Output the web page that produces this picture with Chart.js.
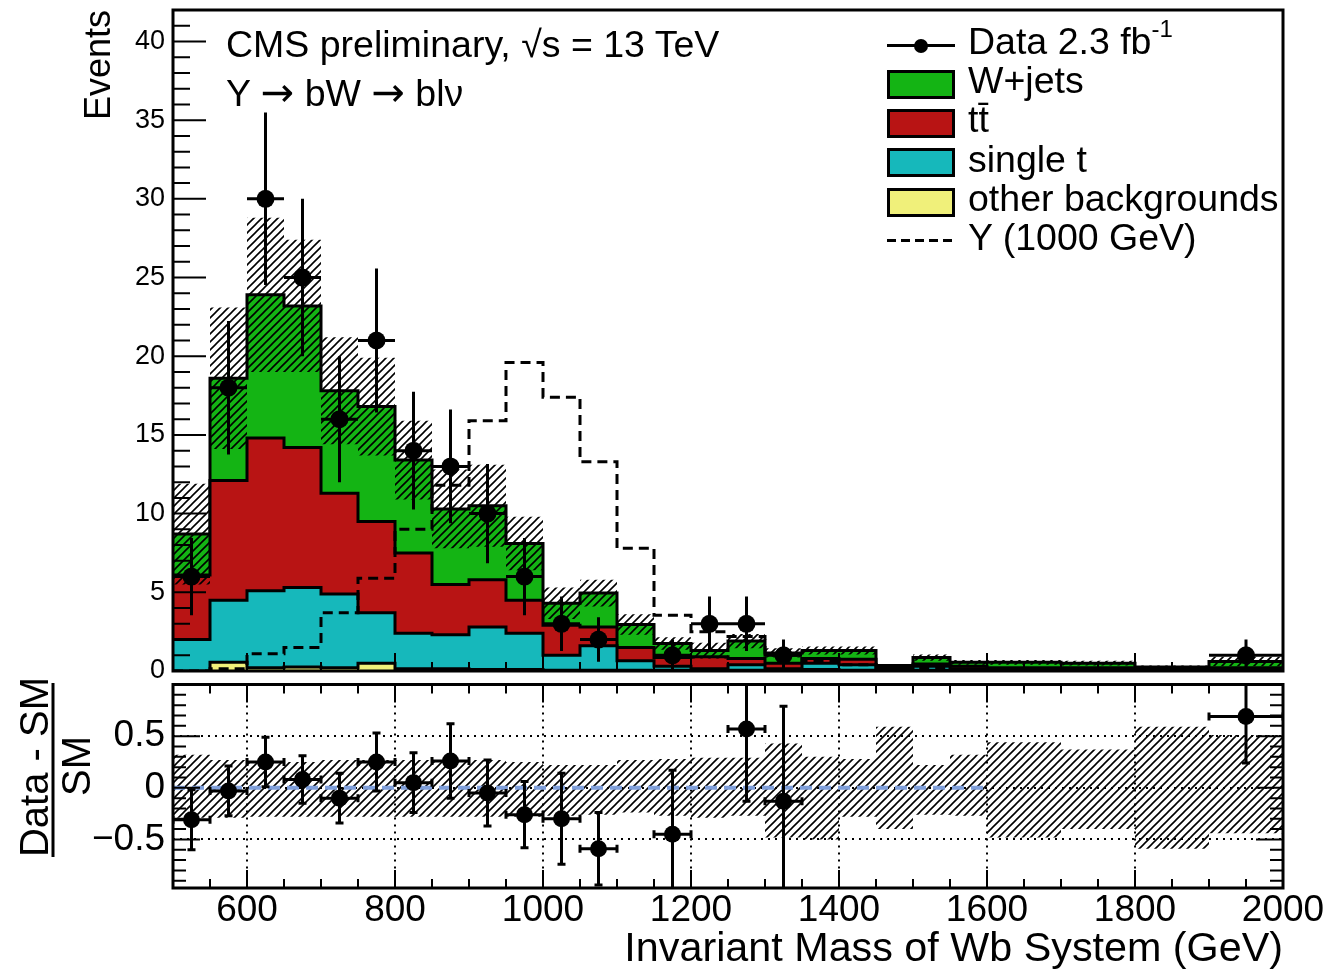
<!DOCTYPE html>
<html>
<head>
<meta charset="utf-8">
<title>Invariant mass of Wb system</title>
<script src="https://cdn.jsdelivr.net/npm/chart.js@4.4.1/dist/chart.umd.min.js"></script>
<style>
  html, body { margin: 0; padding: 0; background: #fff; }
  body { position: relative; width: 1326px; height: 974px; overflow: hidden;
         font-family: "Liberation Sans", Arial, Helvetica, sans-serif; color: #000; }
  canvas { position: absolute; left: 0; }
  #main-chart { top: 0; }
  #ratio-chart { top: 676px; }
  .txt { position: absolute; font-size: 37.5px; line-height: 36px; white-space: nowrap; }
  .txt sup { font-size: 24px; line-height: 0; position: relative; top: -4px; }
  .arrow { font-family: "DejaVu Sans", sans-serif; font-size: 40px; }
  .swatch { position: absolute; left: 887px; width: 68px; height: 29px; box-sizing: border-box; border: 3px solid #000; }
</style>
</head>
<body>
<canvas id="main-chart" width="1326" height="690"></canvas>
<canvas id="ratio-chart" width="1326" height="298"></canvas>

<div class="txt" style="left:226px; top:26px;">CMS preliminary, √s = 13 TeV</div>
<div class="txt" style="left:226px; top:74px;">Y <span class="arrow">→</span> bW <span class="arrow">→</span> blν</div>

<!-- legend -->
<div style="position:absolute; left:887px; top:44px; width:68px; height:3px; background:#000;"></div>
<div style="position:absolute; left:914px; top:39px; width:14px; height:14px; border-radius:50%; background:#000;"></div>
<div class="txt" style="left:968px; top:23px;">Data 2.3 fb<sup>-1</sup></div>
<div class="swatch" style="top:70px; background:#14b414;"></div>
<div class="txt" style="left:968px; top:62px;">W+jets</div>
<div class="swatch" style="top:109px; background:#b81414;"></div>
<div class="txt" style="left:968px; top:101px;">tt̄</div>
<div class="swatch" style="top:148px; background:#16b8bb;"></div>
<div class="txt" style="left:968px; top:141px;">single t</div>
<div class="swatch" style="top:188px; background:#f0f07a;"></div>
<div class="txt" style="left:968px; top:180px;">other backgrounds</div>
<div style="position:absolute; left:887px; top:239px; width:66px; height:3px;
            background:repeating-linear-gradient(to right, #000 0 9px, transparent 9px 14px);"></div>
<div class="txt" style="left:968px; top:219px;">Y (1000 GeV)</div>

<script>
const FONT = '"Liberation Sans", Arial, Helvetica, sans-serif';

// bin edges (GeV)
const binEdges = [500, 550, 600, 650, 700, 750, 800, 850, 900, 950, 1000, 1050, 1100, 1150,
                  1200, 1250, 1300, 1350, 1400, 1450, 1500, 1550, 1600, 1700, 1800, 1900, 2000];

// background contributions per bin (events)
const otherBkg  = [0, 0.55, 0.2, 0.25, 0.2, 0.5, 0.15, 0.15, 0.1, 0.1, 0.05, 0.05, 0.05,
                   0.05, 0.05, 0.05, 0.05, 0.1, 0.05, 0, 0.05, 0, 0, 0, 0, 0];
const singleTop = [2.0, 3.95, 4.9, 5.05, 4.7, 3.2, 2.25, 2.15, 2.7, 2.3, 0.95, 1.55, 0.6,
                   0.25, 0.1, 0.35, 0.1, 0.4, 0.35, 0.1, 0.25, 0.15, 0.1, 0.1, 0.05, 0.1];
const ttbar     = [4.1, 7.6, 9.7, 8.9, 6.4, 5.8, 5.1, 3.2, 3.0, 2.1, 1.9, 1.2, 0.85,
                   0.55, 0.75, 0.4, 0.35, 0.3, 0.35, 0.1, 0.15, 0.15, 0.1, 0.1, 0.05, 0.1];
const wJets     = [2.6, 6.5, 9.1, 9.0, 6.5, 7.3, 5.9, 4.8, 4.7, 3.6, 1.4, 2.15, 1.45,
                   0.9, 0.4, 1.1, 0.65, 0.5, 0.55, 0.15, 0.4, 0.25, 0.35, 0.3, 0.15, 0.4];
// uncertainty on the total background (events)
const bkgErr    = [3.2, 4.5, 4.9, 4.2, 3.4, 3.1, 2.5, 2.5, 2.6, 1.7, 1.0, 0.85, 0.65,
                   0.4, 0.5, 0.45, 0.3, 0.25, 0.25, 0.1, 0.2, 0.15, 0.15, 0.15, 0.1, 0.3];
// Y (1000 GeV) signal
const signalY   = [0, 0.15, 1.1, 1.5, 3.7, 5.9, 9.0, 11.8, 15.9, 19.6, 17.4, 13.3, 7.8,
                   3.55, 2.5, 2.2, 1.0, 0.6, 0.4, 0.2, 0.2, 0.1, 0.1, 0.05, 0.05, 0.05];

// data
const dataX    = [525, 575, 625, 675, 725, 775, 825, 875, 925, 975, 1025, 1075, 1175, 1225, 1275, 1325, 1950];
const dataY    = [6, 18, 30, 25, 16, 21, 14, 13, 10, 6, 3, 2, 1, 3, 3, 1, 1];
const dataErr  = [2.45, 4.24, 5.48, 5.0, 4.0, 4.58, 3.74, 3.61, 3.16, 2.45, 1.73, 1.41, 1.0, 1.73, 1.73, 1.0, 1.0];
const dataXErr = [25, 25, 25, 25, 25, 25, 25, 25, 25, 25, 25, 25, 25, 25, 25, 25, 50];

// ratio panel: (Data - SM) / SM
const ratioX    = [525, 575, 625, 675, 725, 775, 825, 875, 925, 975, 1025, 1075, 1175, 1275, 1325, 1950];
const ratioY    = [-0.31, -0.03, 0.25, 0.08, -0.10, 0.25, 0.05, 0.26, -0.05, -0.26, -0.30, -0.59, -0.45, 0.57, -0.13, 0.69];
const ratioErr  = [0.29, 0.24, 0.24, 0.23, 0.24, 0.28, 0.29, 0.36, 0.32, 0.32, 0.44, 0.35, 0.62, 0.70, 0.92, 0.45];
const ratioXErr = [25, 25, 25, 25, 25, 25, 25, 25, 25, 25, 25, 25, 25, 25, 25, 50];
const ratioBandUp   = [0.32, 0.27, 0.25, 0.25, 0.27, 0.27, 0.27, 0.27, 0.27, 0.25, 0.22, 0.22, 0.27,
                       0.28, 0.29, 0.29, 0.43, 0.30, 0.28, 0.59, 0.22, 0.32, 0.44, 0.37, 0.59, 0.51];
const ratioBandDown = [0.29, 0.29, 0.28, 0.28, 0.28, 0.28, 0.28, 0.28, 0.28, 0.28, 0.27, 0.26, 0.24,
                       0.27, 0.29, 0.27, 0.48, 0.50, 0.28, 0.40, 0.26, 0.27, 0.48, 0.40, 0.59, 0.44];
const refLine = [[500, 0], [1600, 0]];

// helpers
function stepData(vals) {
    const pts = vals.map((v, i) => ({ x: binEdges[i], y: v }));
    pts.push({ x: binEdges[binEdges.length - 1], y: vals[vals.length - 1] });
    return pts;
}
function cumulative(...parts) {
    return parts[0].map((_, i) => parts.reduce((s, p) => s + p[i], 0));
}
function makeHatch() {
    const c = document.createElement('canvas');
    c.width = 8; c.height = 8;
    const g = c.getContext('2d');
    g.strokeStyle = '#000';
    g.lineWidth = 1.6;
    g.beginPath();
    g.moveTo(-2, 10); g.lineTo(10, -2);
    g.moveTo(-2, 2); g.lineTo(2, -2);
    g.moveTo(6, 10); g.lineTo(10, 6);
    g.stroke();
    return g.createPattern(c, 'repeat');
}
const hatch = makeHatch();

// 'before': each segment keeps the value of its left edge
function histLine(label, vals, color, order) {
    return {
        label, data: stepData(vals), stepped: 'before', fill: 'origin',
        backgroundColor: color, borderColor: '#000', borderWidth: 3,
        borderJoinStyle: 'miter', pointRadius: 0, order
    };
}
function bandLines(hi, lo, order) {
    return [
        { label: 'band hi', data: stepData(hi), stepped: 'before', fill: '+1', backgroundColor: hatch,
          borderWidth: 0, borderColor: 'rgba(0,0,0,0)', pointRadius: 0, order },
        { label: 'band lo', data: stepData(lo), stepped: 'before', fill: false,
          borderWidth: 0, borderColor: 'rgba(0,0,0,0)', pointRadius: 0, order }
    ];
}

// ROOT style frame with inward ticks, optional dotted grid
const rootAxes = {
    id: 'rootAxes',
    beforeDatasetsDraw(chart, args, opts) {
        if (!opts.grid) return;
        const { ctx, chartArea: a, scales: { x, y } } = chart;
        ctx.save();
        ctx.strokeStyle = '#000';
        ctx.lineWidth = 2;
        ctx.setLineDash([2, 5]);
        ctx.beginPath();
        x.ticks.forEach(t => {
            if (t.value <= x.min || t.value >= x.max) return;
            const px = Math.round(x.getPixelForValue(t.value));
            ctx.moveTo(px, a.top); ctx.lineTo(px, a.bottom);
        });
        y.ticks.forEach(t => {
            if (t.value <= y.min || t.value >= y.max) return;
            const py = Math.round(y.getPixelForValue(t.value));
            ctx.moveTo(a.left, py); ctx.lineTo(a.right, py);
        });
        ctx.stroke();
        ctx.restore();
    },
    afterDraw(chart, args, opts) {
        const { ctx, chartArea: a, scales: { x, y } } = chart;
        ctx.save();
        ctx.strokeStyle = '#000';
        ctx.lineWidth = 2;
        ctx.beginPath();
        const k0 = Math.ceil(y.min / opts.yStep - 1e-6), k1 = Math.floor(y.max / opts.yStep + 1e-6);
        for (let k = k0; k <= k1; k++) {
            const py = y.getPixelForValue(k * opts.yStep);
            const len = (k % opts.yMajorEvery === 0) ? opts.yMajor : opts.yMinor;
            opts.ySides.forEach(side => {
                if (side === 'left') { ctx.moveTo(a.left, py); ctx.lineTo(a.left + len, py); }
                else { ctx.moveTo(a.right, py); ctx.lineTo(a.right - len, py); }
            });
        }
        const j0 = Math.ceil(x.min / opts.xStep), j1 = Math.floor(x.max / opts.xStep);
        for (let j = j0; j <= j1; j++) {
            const px = x.getPixelForValue(j * opts.xStep);
            const len = (j % opts.xMajorEvery === 0) ? opts.xMajor : opts.xMinor;
            opts.xSides.forEach(side => {
                if (side === 'bottom') { ctx.moveTo(px, a.bottom); ctx.lineTo(px, a.bottom - len); }
                else { ctx.moveTo(px, a.top); ctx.lineTo(px, a.top + len); }
            });
        }
        ctx.stroke();
        ctx.lineWidth = 3;
        ctx.strokeRect(a.left, a.top, a.right - a.left, a.bottom - a.top);
        ctx.restore();
    }
};

// error bars for the data points
const errorBars = {
    id: 'errorBars',
    afterDatasetsDraw(chart, args, opts) {
        const { ctx, chartArea: a, scales: { x, y } } = chart;
        ctx.save();
        ctx.beginPath();
        ctx.rect(a.left, a.top, a.right - a.left, a.bottom - a.top);
        ctx.clip();
        ctx.strokeStyle = '#000';
        ctx.lineWidth = 3;
        ctx.beginPath();
        opts.xs.forEach((xv, i) => {
            const yv = opts.ys[i];
            const px = x.getPixelForValue(xv), py = y.getPixelForValue(yv);
            const y1 = y.getPixelForValue(yv - opts.yErr[i]), y2 = y.getPixelForValue(yv + opts.yErr[i]);
            const x1 = x.getPixelForValue(xv - opts.xErr[i]), x2 = x.getPixelForValue(xv + opts.xErr[i]);
            ctx.moveTo(px, y1); ctx.lineTo(px, y2);
            ctx.moveTo(x1, py); ctx.lineTo(x2, py);
            if (opts.cap) {
                const c = opts.cap;
                ctx.moveTo(px - c, y1); ctx.lineTo(px + c, y1);
                ctx.moveTo(px - c, y2); ctx.lineTo(px + c, y2);
                ctx.moveTo(x1, py - c); ctx.lineTo(x1, py + c);
                ctx.moveTo(x2, py - c); ctx.lineTo(x2, py + c);
            }
        });
        ctx.stroke();
        ctx.restore();
    }
};

// fraction title of the ratio panel
const ratioTitle = {
    id: 'ratioTitle',
    afterDraw(chart) {
        const ctx = chart.ctx;
        ctx.save();
        ctx.fillStyle = '#000';
        ctx.strokeStyle = '#000';
        ctx.font = '40px ' + FONT;
        ctx.textAlign = 'center';
        ctx.textBaseline = 'alphabetic';
        ctx.save();
        ctx.translate(48, 91); ctx.rotate(-Math.PI / 2);
        ctx.fillText('Data - SM', 0, 0);
        ctx.restore();
        ctx.save();
        ctx.translate(90, 90); ctx.rotate(-Math.PI / 2);
        ctx.fillText('SM', 0, 0);
        ctx.restore();
        ctx.lineWidth = 3;
        ctx.beginPath(); ctx.moveTo(53, 7); ctx.lineTo(53, 181); ctx.stroke();
        ctx.restore();
    }
};

const stackOther  = otherBkg;
const stackSingle = cumulative(otherBkg, singleTop);
const stackTT     = cumulative(otherBkg, singleTop, ttbar);
const stackTotal  = cumulative(otherBkg, singleTop, ttbar, wJets);
const bandHi = stackTotal.map((v, i) => v + bkgErr[i]);
const bandLo = stackTotal.map((v, i) => Math.max(0, v - bkgErr[i]));

const tickFont = size => ({ family: FONT, size });

new Chart(document.getElementById('main-chart'), {
    type: 'line',
    data: {
        datasets: [
            histLine('W+jets', stackTotal, '#14b414', 10),
            histLine('tt', stackTT, '#b81414', 9),
            histLine('single t', stackSingle, '#16b8bb', 8),
            histLine('other backgrounds', stackOther, '#f0f07a', 7),
            ...bandLines(bandHi, bandLo, 6),
            { label: 'Y (1000 GeV)', data: stepData(signalY), stepped: 'before', fill: false,
              borderColor: '#000', borderWidth: 3, borderDash: [10, 6], pointRadius: 0, order: 5 },
            { label: 'Data', data: dataX.map((x, i) => ({ x, y: dataY[i] })), showLine: false,
              pointRadius: 9, pointBackgroundColor: '#000', pointBorderColor: '#000', pointBorderWidth: 0, order: 1 }
        ]
    },
    options: {
        responsive: false,
        animation: false,
        events: [],
        layout: { padding: { left: 0, right: 43, top: 10, bottom: 19 } },
        plugins: {
            legend: { display: false },
            tooltip: { enabled: false },
            rootAxes: { yStep: 1, yMajorEvery: 5, yMajor: 33, yMinor: 17, ySides: ['left'],
                        xStep: 50, xMajorEvery: 4, xMajor: 18, xMinor: 9, xSides: ['bottom'], grid: false },
            errorBars: { xs: dataX, ys: dataY, yErr: dataErr, xErr: dataXErr, cap: 0 }
        },
        scales: {
            x: { type: 'linear', min: 500, max: 2000, display: false },
            y: {
                min: 0, max: 42,
                afterFit: s => { s.width = 173; s.paddingTop = 0; s.paddingBottom = 0; },
                grid: { display: false, drawTicks: false },
                border: { display: false },
                ticks: { stepSize: 5, includeBounds: false, padding: 8, color: '#000',
                         font: tickFont(27), callback: v => String(v) },
                title: { display: true, text: 'Events', align: 'end', color: '#000',
                         font: tickFont(36), padding: { top: 78, bottom: 0 } }
            }
        }
    },
    plugins: [rootAxes, errorBars]
});

new Chart(document.getElementById('ratio-chart'), {
    type: 'line',
    data: {
        datasets: [
            ...bandLines(ratioBandUp, ratioBandDown.map(v => -v), 6),
            { label: 'SM', data: refLine.map(p => ({ x: p[0], y: p[1] })), fill: false,
              borderColor: '#7f9fdb', borderWidth: 4, borderDash: [12, 7], pointRadius: 0, order: 3 },
            { label: 'ratio', data: ratioX.map((x, i) => ({ x, y: ratioY[i] })), showLine: false,
              pointRadius: 8.5, pointBackgroundColor: '#000', pointBorderColor: '#000', pointBorderWidth: 0, order: 1 }
        ]
    },
    options: {
        responsive: false,
        animation: false,
        events: [],
        layout: { padding: { left: 0, right: 43, top: 5, bottom: 0 } },
        plugins: {
            legend: { display: false },
            tooltip: { enabled: false },
            rootAxes: { yStep: 0.1, yMajorEvery: 5, yMajor: 27, yMinor: 13, ySides: ['left', 'right'],
                        xStep: 50, xMajorEvery: 4, xMajor: 18, xMinor: 9, xSides: ['top', 'bottom'], grid: true },
            errorBars: { xs: ratioX, ys: ratioY, yErr: ratioErr, xErr: ratioXErr, cap: 4 }
        },
        scales: {
            x: {
                type: 'linear', min: 500, max: 2000,
                afterFit: s => { s.height = 86; s.paddingLeft = 0; s.paddingRight = 0; },
                grid: { display: false, drawTicks: false },
                border: { display: false },
                ticks: { stepSize: 200, includeBounds: false, padding: 1, color: '#000', autoSkip: false,
                         maxRotation: 0, font: tickFont(37), callback: v => String(v) },
                title: { display: true, text: 'Invariant Mass of Wb System (GeV)', align: 'end', color: '#000',
                         font: tickFont(41.3), padding: { top: 0, bottom: 0 } }
            },
            y: {
                min: -0.97, max: 1.0,
                afterFit: s => { s.width = 173; s.paddingTop = 0; s.paddingBottom = 0; },
                grid: { display: false, drawTicks: false },
                border: { display: false },
                ticks: { stepSize: 0.5, includeBounds: false, padding: 8, color: '#000', font: tickFont(37),
                         callback: v => Math.abs(v) > 0.6 ? null :
                             (v === 0 ? '0' : (v < 0 ? '\u2212' + Math.abs(v) : String(v))) }
            }
        }
    },
    plugins: [rootAxes, errorBars, ratioTitle]
});
</script>
</body>
</html>
